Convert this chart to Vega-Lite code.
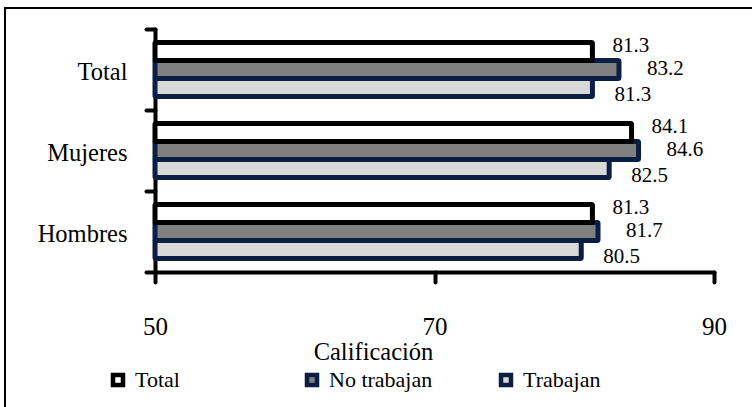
{
  "$schema": "https://vega.github.io/schema/vega-lite/v6.json",
  "width": 748,
  "height": 400,
  "autosize": {"type": "none"},
  "padding": {"left": 5, "top": 8, "right": -1, "bottom": -1},
  "background": "white",
  "config": {
    "font": "Liberation Serif",
    "view": {"stroke": "black", "strokeWidth": 2},
    "axis": {"grid": false, "zindex": 1, "domainColor": "black", "tickColor": "black", "labelColor": "black", "titleColor": "black", "domainCap": "round", "tickCap": "round", "labelFont": "Liberation Serif", "titleFont": "Liberation Serif"}
  },
  "data": {
    "values": [
      {"grupo": "Total", "serie": "Trabajan", "valor": 81.3},
      {"grupo": "Mujeres", "serie": "Trabajan", "valor": 82.5},
      {"grupo": "Hombres", "serie": "Trabajan", "valor": 80.5},
      {"grupo": "Total", "serie": "No trabajan", "valor": 83.2},
      {"grupo": "Mujeres", "serie": "No trabajan", "valor": 84.6},
      {"grupo": "Hombres", "serie": "No trabajan", "valor": 81.7},
      {"grupo": "Total", "serie": "Total", "valor": 81.3},
      {"grupo": "Mujeres", "serie": "Total", "valor": 84.1},
      {"grupo": "Hombres", "serie": "Total", "valor": 81.3}
    ]
  },
  "encoding": {
    "y": {
      "field": "grupo",
      "type": "nominal",
      "sort": ["Total", "Mujeres", "Hombres"],
      "scale": {"range": [21, 264], "paddingInner": 0, "paddingOuter": 0},
      "axis": {
        "title": null,
        "orient": "left",
        "offset": -150,
        "domainWidth": 4,
        "tickWidth": 4,
        "tickSize": 9,
        "tickBand": "extent",
        "labelFontSize": 24.5,
        "labelPadding": 19,
        "labelOffset": 3
      }
    },
    "yOffset": {
      "field": "serie",
      "type": "nominal",
      "sort": ["Total", "No trabajan", "Trabajan"],
      "scale": {"paddingInner": 0, "paddingOuter": 0.75}
    },
    "x": {
      "field": "valor",
      "type": "quantitative",
      "scale": {"domain": [50, 90], "range": [150, 709], "zero": false, "nice": false},
      "axis": {
        "orient": "bottom",
        "offset": -136,
        "values": [50, 70, 90],
        "domainWidth": 4,
        "tickWidth": 4,
        "tickSize": 10,
        "labelFontSize": 25,
        "labelBaseline": "alphabetic",
        "labelPadding": 52,
        "labelFlush": false,
        "labelOverlap": false,
        "title": "Calificación",
        "titleFontSize": 24.5,
        "titleFontWeight": 400,
        "titleX": 368,
        "titleY": 80,
        "titleBaseline": "middle",
        "titleAlign": "center"
      }
    }
  },
  "layer": [
    {
      "mark": {"type": "bar", "strokeWidth": 5, "strokeJoin": "round", "cornerRadius": 1},
      "encoding": {
        "x2": {"datum": 50},
        "fill": {
          "field": "serie",
          "type": "nominal",
          "scale": {"domain": ["Total", "No trabajan", "Trabajan"], "range": ["#ffffff", "#808080", "#d9d9d9"]},
          "legend": {
            "title": null,
            "orient": "none",
            "legendX": 102,
            "legendY": 361,
            "direction": "horizontal",
            "columns": 3,
            "gridAlign": "all",
            "columnPadding": 59,
            "symbolType": "square",
            "symbolSize": 100,
            "symbolStrokeWidth": 4.5,
            "labelFont": "Liberation Serif",
            "labelFontSize": 22,
            "labelColor": "black",
            "labelOffset": 6
          }
        },
        "stroke": {
          "field": "serie",
          "type": "nominal",
          "scale": {"domain": ["Total", "No trabajan", "Trabajan"], "range": ["#000000", "#0b1f45", "#0b1f45"]},
          "legend": {
            "title": null,
            "orient": "none",
            "legendX": 102,
            "legendY": 361,
            "direction": "horizontal",
            "columns": 3,
            "gridAlign": "all",
            "columnPadding": 59,
            "symbolType": "square",
            "symbolSize": 100,
            "symbolStrokeWidth": 4.5,
            "labelFont": "Liberation Serif",
            "labelFontSize": 22,
            "labelColor": "black",
            "labelOffset": 6
          }
        }
      }
    },
    {
      "transform": [{"filter": "datum.serie === 'Total'"}],
      "mark": {"type": "text", "font": "Liberation Serif", "align": "left", "baseline": "middle", "dx": 20, "dy": -6, "fontSize": 21, "color": "black"},
      "encoding": {"text": {"field": "valor", "type": "quantitative", "format": ".1f"}}
    },
    {
      "transform": [{"filter": "datum.serie === 'No trabajan'"}],
      "mark": {"type": "text", "font": "Liberation Serif", "align": "left", "baseline": "middle", "dx": 28, "dy": -1, "fontSize": 21, "color": "black"},
      "encoding": {"text": {"field": "valor", "type": "quantitative", "format": ".1f"}}
    },
    {
      "transform": [{"filter": "datum.serie === 'Trabajan'"}],
      "mark": {"type": "text", "font": "Liberation Serif", "align": "left", "baseline": "middle", "dx": 22, "dy": 7, "fontSize": 21, "color": "black"},
      "encoding": {"text": {"field": "valor", "type": "quantitative", "format": ".1f"}}
    }
  ]
}
